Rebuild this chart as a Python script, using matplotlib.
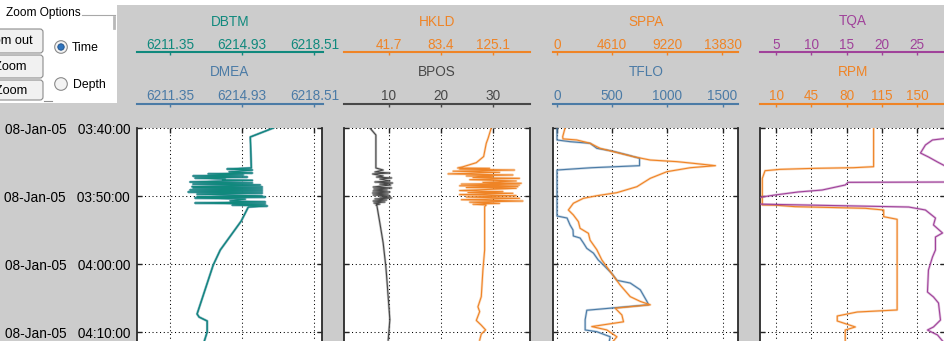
import numpy as np
import matplotlib
matplotlib.use("Agg")
from matplotlib import pyplot as plt
from matplotlib.patches import Rectangle, FancyBboxPatch, Circle

plt.rcParams['font.family'] = ['Liberation Sans', 'DejaVu Sans']

W, H = 945, 341
BG = '#cccccc'

# time axis: minutes after 08-Jan-05 03:40:00
time_ticks = [0, 10, 20, 30]
time_labels = ['08-Jan-05   03:40:00', '08-Jan-05   03:50:00',
               '08-Jan-05   04:00:00', '08-Jan-05   04:10:00']

# track 1: bit depth / measured depth
dbtm_t = [0, 1.32, 5.88, 6.03, 6.18, 6.47, 6.62, 6.76, 6.91, 7.06, 7.21, 7.35, 7.50, 7.65, 7.70,
          7.94, 8.09, 8.24, 8.38, 8.63, 8.68, 8.82, 8.97, 9.12, 9.26, 9.41, 9.56, 9.71, 10.0,
          10.10, 10.15, 10.29, 10.44, 10.74, 10.88, 11.03, 11.18, 11.32, 11.47, 11.62, 13.68,
          17.94, 20.15, 27.35, 27.8, 28.38, 30.0, 31.9]
dbtm_v = [6216.47, 6215.33, 6215.38, 6214.18, 6215.43, 6214.28, 6215.43, 6213.24, 6214.98,
          6212.49, 6215.18, 6212.59, 6214.09, 6213.94, 6215.43, 6212.34, 6215.43, 6212.49,
          6215.82, 6212.44, 6215.92, 6212.49, 6215.92, 6212.34, 6215.92, 6212.25, 6215.92,
          6212.69, 6215.92, 6212.69, 6216.07, 6212.59, 6215.08, 6214.33, 6216.07, 6212.59,
          6216.07, 6214.43, 6216.17, 6215.23, 6214.88, 6213.84, 6213.49, 6212.69, 6212.79,
          6213.19, 6213.19, 6212.99]
dmea_t = dbtm_t
dmea_v = dbtm_v

# track 2: block position / hookload
bpos_t = [0, 1.03, 5.88, 6.18, 6.47, 6.62, 6.76, 7.06, 7.21, 7.35, 7.50, 7.79, 7.94, 8.09, 8.24,
          8.38, 8.68, 8.82, 8.97, 9.12, 9.26, 9.41, 9.56, 9.71, 9.85, 10.0, 10.15, 10.29, 10.44,
          10.59, 10.74, 10.88, 11.03, 11.18, 11.32, 11.4, 14.0, 16.9, 20.4, 22.8, 26.8, 28.2, 31.2]
bpos_v = [6.35, 7.5, 7.5, 8.9, 7.31, 10.19, 6.87, 8.9, 7.63, 10.52, 8.27, 10.19, 7.31, 10.71,
          8.27, 10.33, 6.99, 10.52, 7.12, 9.67, 6.99, 10.19, 6.87, 9.87, 6.99, 10.19, 8.27, 10.52,
          7.31, 9.55, 6.99, 9.23, 7.12, 8.27, 7.5, 7.69, 8.27, 8.9, 9.42, 9.67, 10.06, 10.19, 9.87]
hkld_t = [0, 1.5, 2.25, 4.2, 5.1, 5.7, 5.88, 5.93, 6.05, 6.18, 6.35, 6.51, 6.75, 6.91, 7.05, 7.16,
          7.30, 7.40, 7.60, 7.79, 8.0, 8.13, 8.25, 8.38, 8.5, 8.63, 8.75, 8.87, 9.2, 9.37, 9.5,
          9.60, 9.8, 9.96, 10.15, 10.34, 10.55, 10.74, 10.9, 11.07, 11.2, 11.32, 11.57, 17.94,
          20.9, 24.8, 26.3, 27.0, 28.3, 29.0, 29.7, 30.3, 31.2]
hkld_v = [124.0, 121.5, 120.0, 117.9, 112.0, 101.3, 97.0, 122.7, 98.6, 142.7, 93.3, 130.7, 89.3,
          141.4, 104.0, 125.3, 109.3, 146.7, 106.7, 144.1, 117.3, 148.1, 100.0, 146.7, 98.6,
          145.4, 104.0, 144.1, 98.6, 133.4, 105.3, 141.4, 98.6, 144.1, 104.0, 146.7, 100.0,
          149.4, 106.7, 130.7, 109.3, 120.0, 118.7, 118.7, 117.3, 116.0, 113.3, 114.7, 112.0,
          116.0, 119.5, 116.0, 114.7]

# track 3: standpipe pressure / flow
tflo_t = [0, 1.76, 2.01, 2.25, 2.99, 3.38, 4.07, 4.46, 5.54, 5.84, 6.18, 12.94, 13.24, 14.26,
          15.0, 15.88, 16.18, 16.9, 17.7, 18.4, 19.4, 20.1, 21.4, 22.4, 22.8, 23.8, 25.5, 26.0,
          26.8, 28.2, 29.7, 29.96, 30.7, 31.9]
tflo_v = [0, 0, 118, 300, 361, 497, 664, 748, 748, 315, 0, 0, 91, 118, 145, 148, 209, 239, 270,
          330, 373, 418, 497, 543, 664, 755, 815, 830, 270, 255, 255, 361, 482, 467]
sppa_t = [0, 1.28, 1.6, 1.76, 2.25, 2.99, 3.48, 4.22, 4.71, 4.95, 5.2, 5.54, 5.84, 6.42, 7.4,
          8.63, 9.51, 9.96, 10.34, 11.07, 12.06, 12.79, 13.77, 14.75, 15.49, 16.5, 17.9, 19.4,
          21.1, 23.1, 24.8, 25.5, 26.0, 26.5, 27.5, 28.5, 29.2, 29.7, 30.7, 31.9]
sppa_v = [671, 475, 500, 1648, 2766, 3604, 4721, 6396, 7795, 10033, 11425, 13244, 11148, 9195,
          7795, 6680, 5004, 3328, 2205, 1368, 950, 1368, 1787, 1928, 2626, 2766, 3328, 3747,
          4442, 5281, 6119, 6957, 7795, 4862, 5423, 5559, 2908, 4166, 5004, 4442]

# track 4: torque / rotary speed
rpm_t = [0, 5.69, 5.84, 5.93, 6.08, 6.28, 7.4, 11.32, 11.35, 11.57, 11.81, 12.06, 13.04, 13.43,
         26.76, 27.06, 27.65, 28.38, 29.26, 29.71, 31.9]
rpm_v = [106.6, 106.6, 86.5, 48.7, 14.0, -0.9, -3.6, -3.6, 9.0, 28.9, 98.4, 116.6, 116.6, 129.9,
         129.9, 90.4, 70.6, 70.6, 88.5, 78.5, 78.5]
tqa_t = [0, 1.47, 1.76, 2.5, 3.68, 4.26, 5.0, 6.18, 7.94, 7.99, 8.38, 9.12, 9.41, 9.85, 10.15,
         10.4, 11.18, 11.62, 12.06, 13.24, 14.26, 15.44, 16.03, 17.94, 18.97, 20.88, 24.12,
         24.85, 25.74, 28.24, 29.26, 29.71, 30.44, 31.32]
tqa_v = [31, 29.5, 27.13, 26.13, 25.43, 26.56, 27.84, 30.0, 31, 15.2, 14.79, 11.52, 8.12, 4.86,
         3.01, 2.0, 2.0, 23.77, 26.13, 27.55, 27.27, 28.55, 27.55, 27.55, 27.13, 26.56, 26.42,
         27.27, 27.98, 28.26, 27.27, 26.42, 27.84, 28.55]

# header scales: (name, range, ticks, labels)
dbtm_ax = ('DBTM', (6209.71, 6218.91), [6211.35, 6214.93, 6218.51], ['6211.35', '6214.93', '6218.51'])
dmea_ax = ('DMEA', (6209.71, 6218.91), [6211.35, 6214.93, 6218.51], ['6211.35', '6214.93', '6218.51'])
hkld_ax = ('HKLD', (5.61, 154.77), [41.7, 83.4, 125.1], ['41.7', '83.4', '125.1'])
bpos_ax = ('BPOS', (1.35, 37.12), [10, 20, 30], ['10', '20', '30'])
sppa_ax = ('SPPA', (-335, 15171), [0, 4610, 9220, 13830], ['0', '4610', '9220', '13830'])
tflo_ax = ('TFLO', (-36.4, 1645), [0, 500, 1000, 1500], ['0', '500', '1000', '1500'])
tqa_ax = ('TQA', (2.73, 28.97), [5, 10, 15, 20, 25], ['5', '10', '15', '20', '25'])
rpm_ax = ('RPM', (-5.9, 177.8), [10, 45, 80, 115, 150], ['10', '45', '80', '115', '150'])

TEAL = '#10897d'
BLUE = '#4b7ba6'
ORANGE = '#ef8426'
GREY = '#484848'
PURPLE = '#a0429a'

fig = plt.figure(figsize=(W / 100, H / 100), dpi=100, facecolor=BG)

# --- zoom options widget (buttons run off the left edge, as in the screenshot)
ui = fig.add_axes([0, 0, 1, 1])
ui.set_xlim(0, W)
ui.set_ylim(H, 0)
ui.axis('off')
ui.add_patch(Rectangle((0, 0), W, 5, fc='white', ec='none'))
ui.add_patch(Rectangle((0, 0), 116.5, 103, fc='white', ec='none'))
ui.plot([82, 115], [15, 15], color='#a8a8a8', lw=0.8)
ui.plot([114, 114], [17, 28], color='#b8b8b8', lw=2)
ui.plot([44, 52], [101, 101], color='#909090', lw=0.8)
ui.text(6, 13, 'Zoom Options', fontsize=8.6, ha='left', va='center')
for (y0, h, lab, xr) in [(29, 24, 'Zoom out', 33), (55, 23, 'Full Zoom', 27), (80, 20, 'Reset Zoom', 27)]:
    ui.add_patch(FancyBboxPatch((-12, y0), 55, h, boxstyle='round,pad=0,rounding_size=3',
                                fc='#f1f1f1', ec='#8c8c8c', lw=0.8))
    ui.text(xr, y0 + h / 2 + 0.5, lab, fontsize=9.2, ha='right', va='center')
ui.add_patch(Circle((61, 47), 6.3, fc='#f3f3f3', ec='#8a8a8a', lw=0.8))
ui.add_patch(Circle((61, 47), 3.2, fc='#2f74bd', ec='#1b4d86', lw=0.6))
ui.add_patch(Circle((61, 84), 6.3, fc='#f3f3f3', ec='#8a8a8a', lw=0.8))
ui.text(72, 48, 'Time', fontsize=8.8, ha='left', va='center')
ui.text(73, 85, 'Depth', fontsize=8.8, ha='left', va='center')

# --- panels ----------------------------------------------------------------
lefts = [137, 344, 553, 760]
PW = 185.5
TOP = 128
PX_PER_MIN = 6.8
TMAX = 40


def header(x0, yline, ytitle, spec, color):
    name, lim, ticks, labels = spec
    hax = fig.add_axes([x0 / W, 1 - yline / H, PW / W, 0.0001])
    hax.set_xlim(*lim)
    hax.set_xticks(ticks, labels)
    hax.xaxis.tick_top()
    hax.tick_params(axis='x', direction='in', length=2, width=1, color=color,
                    labelcolor=color, labelsize=9.8, pad=0.6)
    hax.set_yticks([])
    for s in ['left', 'right', 'bottom']:
        hax.spines[s].set_visible(False)
    hax.spines['top'].set_color(color)
    hax.spines['top'].set_linewidth(1.5)
    hax.patch.set_visible(False)
    fig.text((x0 + PW / 2) / W, 1 - ytitle / H, name, color=color, fontsize=9.8,
             ha='center', va='center')


def trace(ax, t, v, color):
    ax.plot(v, t, color=color, lw=1.8, alpha=0.3)
    ax.plot(v, t, color=color, lw=0.8)


def panel(x0, spec_main, spec_twin, show_labels):
    ax = fig.add_axes([x0 / W, 1 - (TOP + TMAX * PX_PER_MIN) / H, PW / W, TMAX * PX_PER_MIN / H])
    ax.set_facecolor('white')
    ax.set_xlim(*spec_main[1])
    ax.set_ylim(TMAX, 0)
    ax2 = ax.twiny()
    ax2.set_xlim(*spec_twin[1])
    ax2.tick_params(axis='x', top=False, bottom=False, labeltop=False, labelbottom=False)
    for s in ax2.spines.values():
        s.set_visible(False)
    ax.set_xticks(spec_main[2])
    ax.set_yticks(time_ticks)
    ax.tick_params(axis='x', top=True, bottom=False, labeltop=False, labelbottom=False,
                   direction='in', length=3.6, width=1, color='#222222')
    ax.tick_params(axis='y', left=True, right=True, direction='in', length=3.6, width=1,
                   color='#222222', labelsize=9.8, pad=5)
    if show_labels:
        ax.set_yticklabels(time_labels)
    else:
        ax.set_yticklabels([])
    ax.grid(True, color='black', lw=0.75, ls=(0, (1, 2.6)))
    ax.set_axisbelow(True)
    ax.spines['top'].set_visible(False)
    ax.spines['bottom'].set_visible(False)
    for s in ['left', 'right']:
        ax.spines[s].set_color('#2a2a2a')
        ax.spines[s].set_linewidth(1.3)
    return ax, ax2


header(lefts[0], 52.5, 21.5, dbtm_ax, TEAL)
header(lefts[0], 104, 71.7, dmea_ax, BLUE)
header(lefts[1], 52.5, 21.5, hkld_ax, ORANGE)
header(lefts[1], 104, 71.7, bpos_ax, GREY)
header(lefts[2], 52.5, 21.5, sppa_ax, ORANGE)
header(lefts[2], 104, 71.7, tflo_ax, BLUE)
header(lefts[3], 52.5, 21.5, tqa_ax, PURPLE)
header(lefts[3], 104, 71.7, rpm_ax, ORANGE)

a1, b1 = panel(lefts[0], dbtm_ax, dmea_ax, True)
trace(b1, dmea_t, dmea_v, BLUE)
trace(b1, dbtm_t, dbtm_v, TEAL)

a2, b2 = panel(lefts[1], bpos_ax, hkld_ax, False)
trace(a2, bpos_t, bpos_v, GREY)
trace(b2, hkld_t, hkld_v, ORANGE)

a3, b3 = panel(lefts[2], tflo_ax, sppa_ax, False)
trace(a3, tflo_t, tflo_v, BLUE)
trace(b3, sppa_t, sppa_v, ORANGE)

a4, b4 = panel(lefts[3], rpm_ax, tqa_ax, False)
trace(a4, rpm_t, rpm_v, ORANGE)
trace(b4, tqa_t, tqa_v, PURPLE)

fig.savefig('out.png', dpi=100, facecolor=fig.get_facecolor())
